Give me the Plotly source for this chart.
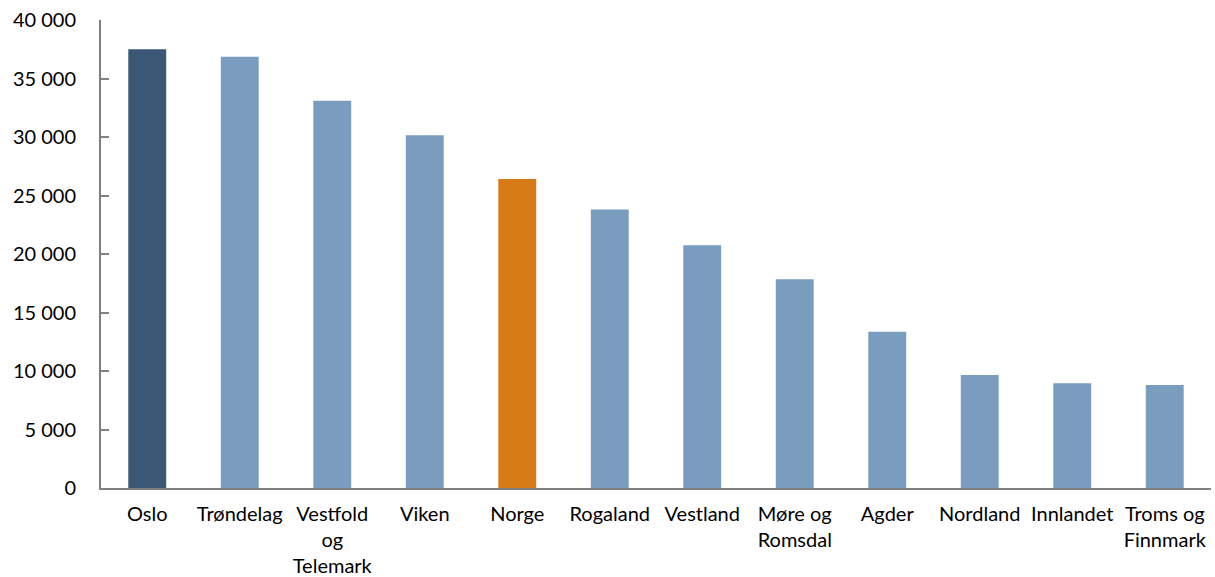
import plotly.graph_objects as go

categories = ["Oslo", "Trøndelag", "Vestfold<br>og<br>Telemark", "Viken", "Norge", "Rogaland",
              "Vestland", "Møre og<br>Romsdal", "Agder", "Nordland", "Innlandet", "Troms og<br>Finnmark"]
values = [37500, 36850, 33100, 30150, 26400, 23800, 20750, 17850, 13350, 9650, 8950, 8800]
colors = ["#3A5775"] + ["#7A9CBF"] * 3 + ["#D77B17"] + ["#7A9CBF"] * 7
tick_vals = [0, 5000, 10000, 15000, 20000, 25000, 30000, 35000, 40000]
tick_text = ["0", "5 000", "10 000", "15 000", "20 000", "25 000", "30 000", "35 000", "40 000"]

fig = go.Figure(go.Bar(x=categories, y=values, marker=dict(color=colors, line=dict(width=0)), width=0.41))

font = dict(family="Lato, 'Open Sans', sans-serif", size=20, color="#000000")
fig.update_layout(
    width=1215, height=577,
    margin=dict(l=101, r=4, t=20, b=89),
    plot_bgcolor="white", paper_bgcolor="white",
    showlegend=False,
    font=font,
    xaxis=dict(showline=True, linecolor="#7F7F7F", linewidth=2, ticks="", showgrid=False,
               tickfont=font, range=[-0.5, 11.5], ticklabelstandoff=7, automargin=False),
    yaxis=dict(showline=True, linecolor="#7F7F7F", linewidth=2, ticks="inside", ticklen=8,
               tickcolor="#7F7F7F", tickwidth=2, showgrid=False, range=[0, 40000],
               tickvals=tick_vals, ticktext=tick_text, tickfont=font, zeroline=False,
               ticklabelstandoff=19, automargin=False),
)
fig.write_html("out.html")
